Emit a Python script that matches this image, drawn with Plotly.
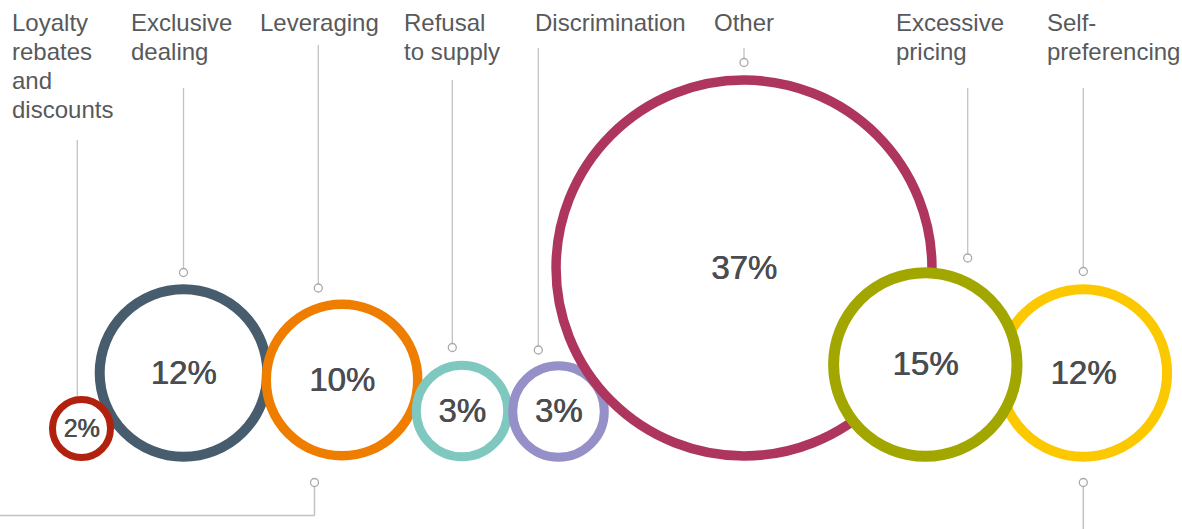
import plotly.graph_objects as go

# Share of cases by type of conduct
categories = [
    "Loyalty\nrebates\nand\ndiscounts",
    "Exclusive\ndealing",
    "Leveraging",
    "Refusal\nto supply",
    "Discrimination",
    "Other",
    "Excessive\npricing",
    "Self-\npreferencing",
]
shares = [2, 12, 10, 3, 3, 37, 15, 12]

# Layout of the bubbles (pixel space: x right, y down)
centers_x = [81.5, 183.5, 342, 462, 558.5, 744, 925.3, 1083.3]
centers_y = [428.5, 373, 380, 411, 411.5, 268, 364.5, 373]
outer_r = [32.5, 88.8, 80.5, 50.2, 50.3, 192.7, 97.2, 88.8]
ring_w = [7, 10, 9.5, 9, 9, 9.5, 11, 10]
colors = ["#b2200e", "#475c6c", "#ef7d00", "#7ec8bf", "#9590c8",
          "#ad355e", "#a2a700", "#fcc800"]
pct_size = [25, 33, 33, 33, 33, 33, 33, 33]
pct_dy = 2.5

label_x = [10, 128.5, 257.5, 401.5, 532.5, 711.5, 893.5, 1044.5]
label_y0 = 22
label_step = 29

# Leader lines: x, top, bottom, whether a small ring marks the end
lead_x = [77.3, 183.5, 318.3, 452.3, 538.3, 744, 967.7, 1083.3]
lead_top = [140, 88, 45, 80, 48, 48, 88, 88]
lead_bot = [397, 272.5, 288, 347.5, 350, 62.5, 258, 271.5]
lead_dot = [False, True, True, True, True, True, True, True]

W, H = 1182, 529
LINE = "#c2c2c2"
FONT = "Liberation Sans, Arial, Helvetica, sans-serif"
PCT_COLOR = "#4a4c50"

fig = go.Figure()
shapes = []

# leader lines
for x, t, b in zip(lead_x, lead_top, lead_bot):
    shapes.append(dict(type="line", x0=x, x1=x, y0=t, y1=b,
                       line=dict(color=LINE, width=1.3), layer="below"))

# lower connector lines
shapes.append(dict(type="line", x0=314.5, x1=314.5, y0=483, y1=515.5,
                   line=dict(color=LINE, width=1.5), layer="below"))
shapes.append(dict(type="line", x0=0, x1=314.5, y0=515.5, y1=515.5,
                   line=dict(color=LINE, width=1.5), layer="below"))
shapes.append(dict(type="line", x0=1083.3, x1=1083.3, y0=483, y1=H,
                   line=dict(color=LINE, width=1.5), layer="below"))

# bubble rings (white filled), stacking order back to front
order = [1, 0, 2, 3, 4, 5, 7, 6]
for i in order:
    r = outer_r[i] - ring_w[i] / 2
    shapes.append(dict(type="circle", xref="x", yref="y", layer="below",
                       x0=centers_x[i] - r, x1=centers_x[i] + r,
                       y0=centers_y[i] - r, y1=centers_y[i] + r,
                       line=dict(color=colors[i], width=ring_w[i]),
                       fillcolor="white"))

# end rings of the leader lines
dx = [x for x, d in zip(lead_x, lead_dot) if d] + [314.5, 1083.3]
dy = [y for y, d in zip(lead_bot, lead_dot) if d] + [482.5, 482.5]
fig.add_trace(go.Scatter(
    x=dx, y=dy, mode="markers", hoverinfo="skip",
    marker=dict(symbol="circle", size=8, color="white",
                line=dict(color="#a9a9a9", width=1.3)),
))

# percentage labels inside the rings (slight shadow gives a medium weight)
fig.add_trace(go.Scatter(
    x=centers_x, y=[y + pct_dy for y in centers_y], mode="text",
    hoverinfo="skip",
    text=[f"{v}%" for v in shares],
    textposition="middle center",
    textfont=dict(family=FONT, size=pct_size, color=PCT_COLOR,
                  shadow=f"0.7px 0px 0px {PCT_COLOR}"),
))

# category labels, one annotation per line
annotations = []
for name, x in zip(categories, label_x):
    for k, line in enumerate(name.split("\n")):
        annotations.append(dict(
            x=x, y=label_y0 + k * label_step, xref="x", yref="y",
            text=line, showarrow=False,
            xanchor="left", yanchor="middle", align="left",
            font=dict(family=FONT, size=24, color="#58595b"),
        ))

fig.update_layout(
    width=W, height=H,
    margin=dict(l=0, r=0, t=0, b=0),
    paper_bgcolor="white", plot_bgcolor="white",
    showlegend=False,
    shapes=shapes,
    annotations=annotations,
    xaxis=dict(range=[0, W], visible=False, fixedrange=True),
    yaxis=dict(range=[H, 0], visible=False, fixedrange=True),
)

fig.write_html("out.html")
